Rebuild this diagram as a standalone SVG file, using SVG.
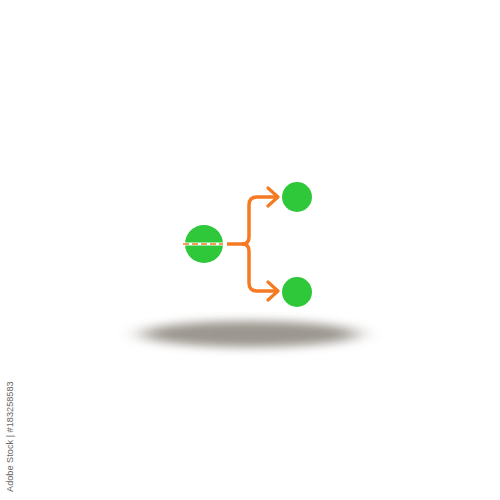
<svg xmlns="http://www.w3.org/2000/svg" width="500" height="500" viewBox="0 0 500 500">
<defs>
<filter id="blur" x="-30%" y="-200%" width="160%" height="500%"><feGaussianBlur stdDeviation="12 5"/></filter>
<marker id="arr" viewBox="0 0 14 22" refX="12" refY="11" markerWidth="14" markerHeight="22" markerUnits="userSpaceOnUse" orient="auto"><path d="M2,2 L12,11 L2,20" fill="none" stroke="#f57b22" stroke-width="3.2" stroke-linecap="round" stroke-linejoin="round"/></marker>
<style>
.node{fill:#2ec83a}
.conn{fill:none;stroke:#f57b22;stroke-width:3.5}
.id{font-family:"Liberation Sans",Arial,sans-serif;font-size:9.2px;fill:#666}
</style>
</defs>
<rect width="500" height="500" fill="#fff"/>
<ellipse cx="250" cy="334" rx="108" ry="13" fill="#8a847c" opacity="0.85" filter="url(#blur)"/>
<g id="connectors">
<path class="conn" d="M227,244 H242 Q249,244 249,237 V205 Q249,197 257,197 H278" marker-end="url(#arr)"/>
<path class="conn" d="M242,244 Q249,244 249,251 V283 Q249,291 257,291 H278" marker-end="url(#arr)"/>
</g>
<g id="node-source">
<circle class="node" cx="204" cy="244" r="19"/>
<rect x="183" y="242.5" width="40" height="3" fill="#fff"/>
<line x1="183" y1="244" x2="223" y2="244" stroke="#f57b22" stroke-width="1.5" stroke-dasharray="6,3"/>
</g>
<g id="node-top"><circle class="node" cx="297" cy="197" r="15"/></g>
<g id="node-bottom"><circle class="node" cx="297" cy="292" r="15"/></g>
<text class="id" transform="translate(13,492) rotate(-90)">Adobe Stock | #183258583</text>
</svg>
